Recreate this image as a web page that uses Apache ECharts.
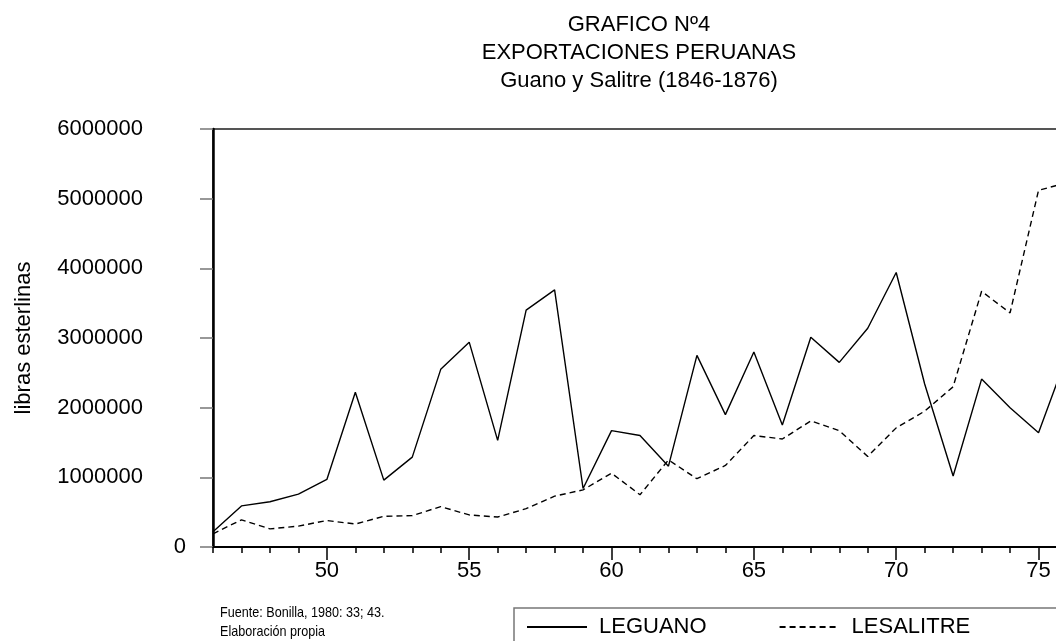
<!DOCTYPE html>
<html>
<head>
<meta charset="utf-8">
<script src="https://cdn.jsdelivr.net/npm/echarts@6/dist/echarts.min.js"></script>
<style>
  body { margin: 0; overflow: hidden; background: #fff; }
  #chart { width: 1400px; height: 641px; }
</style>
</head>
<body>
<div id="chart"></div>
<script>
// anos 1846-1876
const years = [];
for (let y = 1846; y <= 1876; y++) years.push(String(y));

// libras esterlinas
const guano = [
  220000, 590000, 650000, 760000, 970000, 2220000, 960000, 1290000, 2550000, 2940000,
  1530000, 3400000, 3690000, 840000, 1670000, 1600000, 1160000, 2750000, 1900000, 2800000,
  1750000, 3010000, 2650000, 3140000, 3940000, 2340000, 1020000, 2410000, 2000000, 1640000,
  2750000
];
const salitre = [
  190000, 390000, 260000, 300000, 380000, 330000, 440000, 450000, 580000, 460000,
  430000, 550000, 730000, 820000, 1060000, 750000, 1250000, 980000, 1170000, 1600000,
  1550000, 1810000, 1670000, 1300000, 1710000, 1950000, 2300000, 3670000, 3360000, 5120000,
  5230000
];

const yTicks = [0, 1000000, 2000000, 3000000, 4000000, 5000000, 6000000];

const font = 'Liberation Sans, Arial, sans-serif';

const myChart = echarts.init(document.getElementById('chart'));

const option = {
  animation: false,
  backgroundColor: '#fff',
  textStyle: { fontFamily: font },
  // el grafico original queda cortado a la derecha (1876 fuera de la imagen)
  grid: {
    left: 213, right: 333, top: 129, bottom: 94,
    show: true, borderColor: '#555', borderWidth: 2
  },
  graphic: [
    {
      type: 'text', x: 639, y: 11,
      style: {
        text: 'GRAFICO Nº4\nEXPORTACIONES PERUANAS\nGuano y Salitre (1846-1876)',
        align: 'center', font: '22px ' + font, lineHeight: 28, fill: '#000'
      }
    },
    {
      type: 'text', x: 220, y: 603, scaleX: 0.84,
      style: {
        text: 'Fuente: Bonilla, 1980: 33; 43.\nElaboración propia',
        font: '15px ' + font, lineHeight: 19, fill: '#000'
      }
    }
  ],
  legend: {
    orient: 'horizontal',
    left: 514, top: 608,
    itemWidth: 60, itemHeight: 14, itemGap: 72,
    padding: [8, 400, 40, 12],
    borderColor: '#777', borderWidth: 1.5,
    backgroundColor: '#fff',
    itemStyle: { opacity: 0 },
    textStyle: { fontSize: 22, color: '#000', fontFamily: font, padding: [0, 0, 0, 7] },
    data: ['LEGUANO', 'LESALITRE']
  },
  xAxis: [
    {
      type: 'category', position: 'bottom', boundaryGap: false, data: years,
      axisLine: { lineStyle: { color: '#000', width: 2 } },
      axisTick: { interval: 0, length: 6, lineStyle: { color: '#000', width: 1.5 } },
      axisLabel: {
        interval: (i, v) => +v % 5 === 0,
        formatter: v => v.slice(2),
        fontSize: 22, color: '#000', margin: 13, fontFamily: font
      },
      splitLine: { show: false }
    },
    {
      type: 'category', position: 'bottom', boundaryGap: false, data: years,
      axisLine: { show: false },
      axisTick: { interval: (i, v) => +v % 5 === 0, length: 13, lineStyle: { color: '#000', width: 1.5 } },
      axisLabel: { show: false },
      splitLine: { show: false }
    }
  ],
  yAxis: {
    type: 'value', min: yTicks[0], max: yTicks[yTicks.length - 1], interval: 1000000,
    name: 'libras esterlinas', nameLocation: 'middle', nameGap: 178,
    nameTextStyle: { fontSize: 22, color: '#000', fontFamily: font },
    axisLine: { show: true, lineStyle: { color: '#000', width: 2.5 } },
    axisTick: { show: true, length: 13, lineStyle: { color: '#777', width: 1.5 } },
    axisLabel: {
      margin: 27, fontSize: 22, color: '#000', fontFamily: font,
      formatter: v => v === 0 ? '0' : '{p|' + v + '}',
      rich: { p: { fontSize: 22, color: '#000', fontFamily: font, padding: [0, 43, 0, 0] } }
    },
    splitLine: { show: false }
  },
  series: [
    {
      name: 'LEGUANO', type: 'line', data: guano, symbol: 'none',
      lineStyle: { color: '#000', width: 1.4 }, itemStyle: { color: '#000' }
    },
    {
      name: 'LESALITRE', type: 'line', data: salitre, symbol: 'none',
      lineStyle: { color: '#000', width: 1.4, type: [6, 4] }, itemStyle: { color: '#000' }
    }
  ]
};

myChart.setOption(option);
</script>
</body>
</html>
